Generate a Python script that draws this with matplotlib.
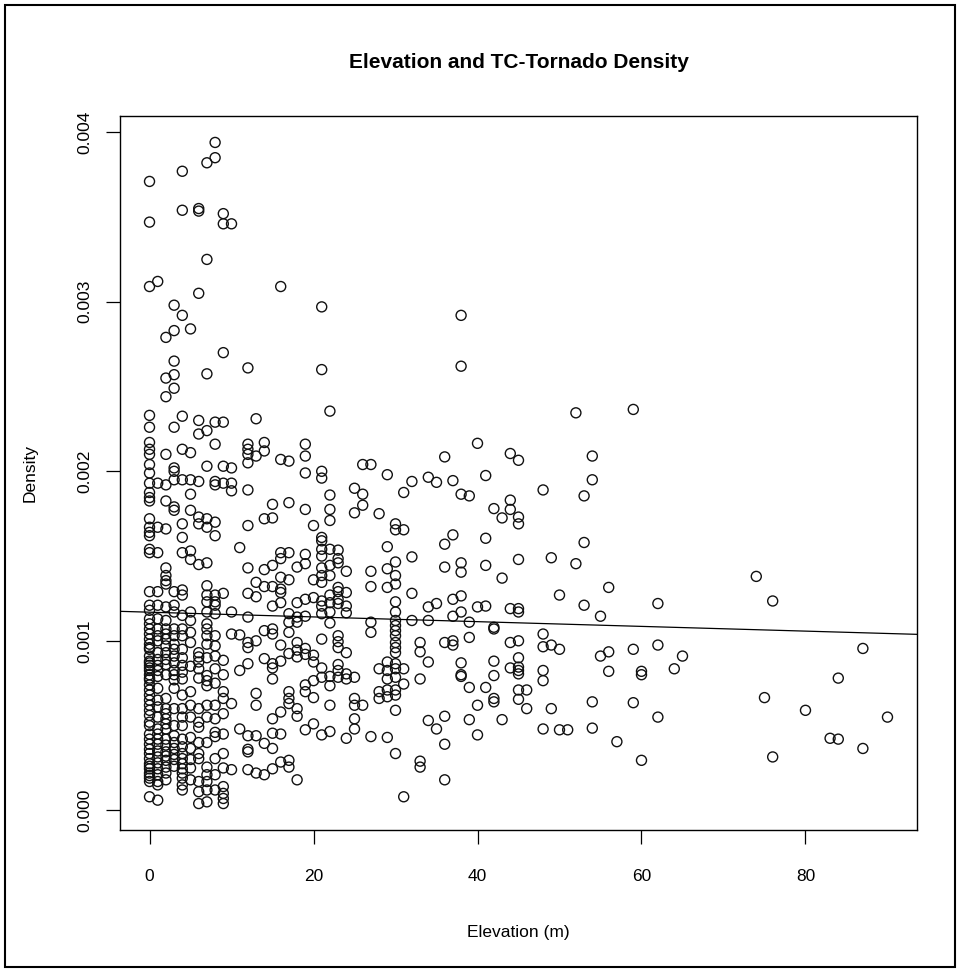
import numpy as np
import matplotlib
matplotlib.use("Agg")
import matplotlib.pyplot as plt
from matplotlib.patches import Rectangle

plt.rcParams['font.family'] = ['Liberation Sans', 'DejaVu Sans']

# (elevation m, density x 1e-3)
pts_0_4 = [
    (0, 3.71), (0, 3.47), (0, 3.09), (0, 2.33), (0, 2.26), (0, 2.17), (0, 2.13), (0, 2.10), (0, 2.04),
    (0, 1.99), (0, 1.93), (0, 1.875), (0, 1.845), (0, 1.825), (0, 1.72), (0, 1.67), (0, 1.64), (0, 1.62),
    (0, 1.54), (0, 1.52), (0, 1.29), (0, 1.21), (0, 1.18), (0, 1.13), (0, 1.10), (0, 1.07), (0, 1.04),
    (0, 1.01), (0, 0.98), (0, 0.96), (0, 0.95), (0, 0.91), (0, 0.88), (0, 0.87), (0, 0.855), (0, 0.84),
    (0, 0.825), (0, 0.80), (0, 0.78), (0, 0.77), (0, 0.74), (0, 0.71), (0, 0.68), (0, 0.65), (0, 0.62),
    (0, 0.59), (0, 0.56), (0, 0.52), (0, 0.50), (0, 0.45), (0, 0.42), (0, 0.39), (0, 0.36), (0, 0.335),
    (0, 0.305), (0, 0.275), (0, 0.26), (0, 0.245), (0, 0.22), (0, 0.205), (0, 0.19), (0, 0.17), (0, 0.08),
    (1, 3.12), (1, 1.93), (1, 1.67), (1, 1.52), (1, 1.29), (1, 1.21), (1, 1.13), (1, 1.07), (1, 1.03),
    (1, 1.00), (1, 0.93), (1, 0.89), (1, 0.855), (1, 0.825), (1, 0.79), (1, 0.72), (1, 0.65), (1, 0.61),
    (1, 0.55), (1, 0.48), (1, 0.45), (1, 0.42), (1, 0.39), (1, 0.35), (1, 0.315), (1, 0.28), (1, 0.245),
    (1, 0.21), (1, 0.17), (1, 0.15), (1, 0.06),
    (2, 2.79), (2, 2.55), (2, 2.44), (2, 2.10), (2, 1.92), (2, 1.825), (2, 1.66), (2, 1.43), (2, 1.385),
    (2, 1.355), (2, 1.335), (2, 1.20), (2, 1.12), (2, 1.07), (2, 1.04), (2, 1.01), (2, 0.97), (2, 0.93),
    (2, 0.89), (2, 0.86), (2, 0.80), (2, 0.66), (2, 0.60), (2, 0.57), (2, 0.54), (2, 0.51), (2, 0.48),
    (2, 0.42), (2, 0.385), (2, 0.345), (2, 0.32), (2, 0.295), (2, 0.255), (2, 0.22), (2, 0.18),
    (3, 2.98), (3, 2.83), (3, 2.65), (3, 2.57), (3, 2.49), (3, 2.26), (3, 2.02), (3, 2.00), (3, 1.95),
    (3, 1.79), (3, 1.77), (3, 1.29), (3, 1.21), (3, 1.17), (3, 1.07), (3, 1.03), (3, 0.98), (3, 0.95),
    (3, 0.91), (3, 0.87), (3, 0.825), (3, 0.80), (3, 0.77), (3, 0.72), (3, 0.60), (3, 0.50), (3, 0.44),
    (3, 0.40), (3, 0.365), (3, 0.33), (3, 0.30), (3, 0.26),
    (4, 3.77), (4, 3.54), (4, 2.92), (4, 2.325), (4, 2.13), (4, 1.95), (4, 1.69), (4, 1.61), (4, 1.52),
    (4, 1.30), (4, 1.27), (4, 1.15), (4, 1.07), (4, 1.03), (4, 0.95), (4, 0.90), (4, 0.855), (4, 0.815),
    (4, 0.775), (4, 0.68), (4, 0.60), (4, 0.55), (4, 0.50), (4, 0.42), (4, 0.375), (4, 0.335), (4, 0.305),
    (4, 0.275), (4, 0.245), (4, 0.22), (4, 0.19), (4, 0.15), (4, 0.12),
]

pts_5_9 = [
    (5, 2.84), (5, 2.11), (5, 1.95), (5, 1.865), (5, 1.77), (5, 1.53), (5, 1.48), (5, 1.17), (5, 1.12),
    (5, 1.05), (5, 0.99), (5, 0.85), (5, 0.70), (5, 0.62), (5, 0.55), (5, 0.43), (5, 0.365), (5, 0.30),
    (5, 0.25), (5, 0.18),
    (6, 3.55), (6, 3.535), (6, 3.05), (6, 2.30), (6, 2.22), (6, 1.94), (6, 1.73), (6, 1.69), (6, 1.45),
    (6, 0.93), (6, 0.905), (6, 0.875), (6, 0.835), (6, 0.78), (6, 0.60), (6, 0.52), (6, 0.49), (6, 0.40),
    (6, 0.335), (6, 0.305), (6, 0.17), (6, 0.11), (6, 0.04),
    (7, 3.82), (7, 3.25), (7, 2.575), (7, 2.24), (7, 2.03), (7, 1.72), (7, 1.67), (7, 1.46), (7, 1.325),
    (7, 1.27), (7, 1.23), (7, 1.17), (7, 1.10), (7, 1.07), (7, 1.03), (7, 0.98), (7, 0.90), (7, 0.795),
    (7, 0.765), (7, 0.735), (7, 0.62), (7, 0.55), (7, 0.40), (7, 0.255), (7, 0.21), (7, 0.17), (7, 0.12),
    (7, 0.05),
    (8, 3.94), (8, 3.85), (8, 2.29), (8, 2.16), (8, 1.94), (8, 1.92), (8, 1.70), (8, 1.62), (8, 1.27),
    (8, 1.23), (8, 1.21), (8, 1.16), (8, 1.03), (8, 0.97), (8, 0.91), (8, 0.835), (8, 0.75), (8, 0.62),
    (8, 0.54), (8, 0.46), (8, 0.435), (8, 0.305), (8, 0.21), (8, 0.12),
    (9, 3.52), (9, 3.46), (9, 2.70), (9, 2.29), (9, 2.03), (9, 1.93), (9, 1.28), (9, 0.885), (9, 0.80),
    (9, 0.70), (9, 0.66), (9, 0.57), (9, 0.45), (9, 0.335), (9, 0.25), (9, 0.14), (9, 0.10), (9, 0.07),
    (9, 0.04),
]

pts_10_19 = [
    (10, 3.46), (10, 2.02), (10, 1.93), (10, 1.885), (10, 1.17), (10, 1.04), (10, 0.63), (10, 0.24),
    (11, 1.55), (11, 1.035), (11, 0.825), (11, 0.48),
    (12, 2.61), (12, 2.16), (12, 2.13), (12, 2.10), (12, 2.05), (12, 1.89), (12, 1.68), (12, 1.43),
    (12, 1.28), (12, 1.14), (12, 0.99), (12, 0.96), (12, 0.865), (12, 0.44), (12, 0.36), (12, 0.345),
    (12, 0.24),
    (13, 2.31), (13, 2.09), (13, 1.345), (13, 1.26), (13, 1.00), (13, 0.69), (13, 0.62), (13, 0.44), (13, 0.22),
    (14, 2.17), (14, 2.12), (14, 1.72), (14, 1.42), (14, 1.32), (14, 1.06), (14, 0.895), (14, 0.395), (14, 0.21),
    (15, 1.805), (15, 1.725), (15, 1.445), (15, 1.32), (15, 1.205), (15, 1.07), (15, 1.04), (15, 0.865),
    (15, 0.84), (15, 0.775), (15, 0.54), (15, 0.455), (15, 0.365), (15, 0.245),
    (16, 3.09), (16, 2.07), (16, 1.52), (16, 1.485), (16, 1.375), (16, 1.305), (16, 1.285), (16, 1.225),
    (16, 0.975), (16, 0.88), (16, 0.58), (16, 0.45), (16, 0.285),
    (17, 2.06), (17, 1.815), (17, 1.52), (17, 1.36), (17, 1.16), (17, 1.11), (17, 1.05), (17, 0.925),
    (17, 0.70), (17, 0.66), (17, 0.63), (17, 0.295), (17, 0.255),
    (18, 1.435), (18, 1.225), (18, 1.14), (18, 1.11), (18, 0.99), (18, 0.945), (18, 0.905), (18, 0.60),
    (18, 0.555), (18, 0.18),
    (19, 2.16), (19, 2.09), (19, 1.99), (19, 1.775), (19, 1.51), (19, 1.455), (19, 1.245), (19, 1.145),
    (19, 0.955), (19, 0.92), (19, 0.74), (19, 0.70), (19, 0.475),
]

pts_20_29 = [
    (20, 1.68), (20, 1.36), (20, 1.255), (20, 0.915), (20, 0.875), (20, 0.765), (20, 0.665), (20, 0.51),
    (21, 2.97), (21, 2.60), (21, 2.00), (21, 1.96), (21, 1.61), (21, 1.59), (21, 1.54), (21, 1.50),
    (21, 1.43), (21, 1.385), (21, 1.345), (21, 1.235), (21, 1.205), (21, 1.16), (21, 1.01), (21, 0.84),
    (21, 0.785), (21, 0.445),
    (22, 2.355), (22, 1.86), (22, 1.775), (22, 1.71), (22, 1.54), (22, 1.445), (22, 1.385), (22, 1.27),
    (22, 1.225), (22, 1.17), (22, 1.105), (22, 0.79), (22, 0.735), (22, 0.62), (22, 0.465),
    (23, 1.535), (23, 1.485), (23, 1.46), (23, 1.315), (23, 1.29), (23, 1.245), (23, 1.22), (23, 1.03),
    (23, 0.995), (23, 0.96), (23, 0.86), (23, 0.825), (23, 0.785),
    (24, 1.41), (24, 1.285), (24, 1.205), (24, 1.165), (24, 0.93), (24, 0.805), (24, 0.775), (24, 0.425),
    (25, 1.90), (25, 1.755), (25, 0.785), (25, 0.66), (25, 0.62), (25, 0.54), (25, 0.48),
    (26, 2.04), (26, 1.865), (26, 1.80), (26, 0.62),
    (27, 2.04), (27, 1.41), (27, 1.32), (27, 1.11), (27, 1.05), (27, 0.435),
    (28, 1.75), (28, 0.835), (28, 0.70), (28, 0.66),
    (29, 1.98), (29, 1.555), (29, 1.425), (29, 1.315), (29, 0.875), (29, 0.825), (29, 0.775), (29, 0.71),
    (29, 0.67), (29, 0.43),
]

pts_30_45 = [
    (30, 1.69), (30, 1.655), (30, 1.465), (30, 1.385), (30, 1.335), (30, 1.23), (30, 1.17), (30, 1.12),
    (30, 1.09), (30, 1.06), (30, 1.03), (30, 0.99), (30, 0.96), (30, 0.93), (30, 0.865), (30, 0.835),
    (30, 0.785), (30, 0.71), (30, 0.68), (30, 0.59), (30, 0.335),
    (31, 1.875), (31, 1.655), (31, 0.835), (31, 0.745), (31, 0.08),
    (32, 1.94), (32, 1.495), (32, 1.28), (32, 1.12),
    (33, 0.99), (33, 0.935), (33, 0.775), (33, 0.29), (33, 0.255),
    (34, 1.965), (34, 1.20), (34, 1.12), (34, 0.875), (34, 0.53),
    (35, 1.935), (35, 1.22), (35, 0.48),
    (36, 2.085), (36, 1.57), (36, 1.435), (36, 0.99), (36, 0.555), (36, 0.39), (36, 0.18),
    (37, 1.945), (37, 1.625), (37, 1.245), (37, 1.145), (37, 1.00), (37, 0.975),
    (38, 2.92), (38, 2.62), (38, 1.865), (38, 1.46), (38, 1.405), (38, 1.265), (38, 1.17), (38, 0.87),
    (38, 0.80), (38, 0.79),
    (39, 1.855), (39, 1.11), (39, 1.02), (39, 0.725), (39, 0.535),
    (40, 2.165), (40, 1.20), (40, 0.62), (40, 0.445),
    (41, 1.975), (41, 1.605), (41, 1.445), (41, 1.205), (41, 0.725),
    (42, 1.78), (42, 1.08), (42, 1.07), (42, 0.88), (42, 0.795), (42, 0.66), (42, 0.64),
    (43, 1.725), (43, 1.37), (43, 0.535),
    (44, 2.105), (44, 1.83), (44, 1.775), (44, 1.19), (44, 0.99), (44, 0.84),
    (45, 2.065), (45, 1.73), (45, 1.69), (45, 1.48), (45, 1.19), (45, 1.17), (45, 1.00), (45, 0.90),
    (45, 0.845), (45, 0.825), (45, 0.805), (45, 0.71), (45, 0.655),
]

pts_46_90 = [
    (46, 0.71), (46, 0.60),
    (48, 1.89), (48, 1.04), (48, 0.965), (48, 0.825), (48, 0.765), (48, 0.48),
    (49, 1.49), (49, 0.975), (49, 0.60),
    (50, 1.27), (50, 0.95), (50, 0.475),
    (51, 0.475),
    (52, 2.345), (52, 1.455),
    (53, 1.855), (53, 1.58), (53, 1.21),
    (54, 2.09), (54, 1.95), (54, 0.64), (54, 0.485),
    (55, 1.145), (55, 0.91),
    (56, 1.315), (56, 0.935), (56, 0.82),
    (57, 0.405),
    (59, 2.365), (59, 0.95), (59, 0.635),
    (60, 0.82), (60, 0.80), (60, 0.295),
    (62, 1.22), (62, 0.975), (62, 0.55),
    (64, 0.835), (65, 0.91),
    (74, 1.38), (75, 0.665), (76, 1.235), (76, 0.315),
    (80, 0.59), (83, 0.425), (84, 0.78), (84, 0.42),
    (87, 0.955), (87, 0.365), (90, 0.55),
]

x_ticks = [0, 20, 40, 60, 80]
y_ticks = [0.000, 0.001, 0.002, 0.003, 0.004]
title = "Elevation and TC-Tornado Density"
xlabel = "Elevation (m)"
ylabel = "Density"

table = np.array(pts_0_4 + pts_5_9 + pts_10_19 + pts_20_29 + pts_30_45 + pts_46_90, dtype=float)
elev = table[:, 0]
dens = table[:, 1] * 1e-3

W, H = 961, 972
fig = plt.figure(figsize=(W / 100, H / 100), dpi=100)
L, R, T, B = 120, 917, 116, 830
ax = fig.add_axes([L / W, 1 - B / H, (R - L) / W, (B - T) / H])

ax.scatter(elev, dens, s=52, facecolors='none', edgecolors='#111111', linewidths=1.0, zorder=2)

slope, intercept = np.polyfit(elev, dens, 1)

xr = elev.max() - elev.min()
yr = dens.max() - dens.min()
ax.set_xlim(elev.min() - 0.04 * xr, elev.max() + 0.04 * xr)
ax.set_ylim(dens.min() - 0.04 * yr, dens.max() + 0.04 * yr)
ax.axline((0, intercept), slope=slope, color='black', lw=0.9, zorder=3)

ax.set_xticks(x_ticks)
ax.set_xticklabels([str(v) for v in x_ticks])
ax.set_yticks(y_ticks)
ax.set_yticklabels([f"{v:.3f}" for v in y_ticks])
ax.tick_params(direction='out', length=10, width=0.9, labelsize=12.5, color='black')
ax.tick_params(axis='x', pad=18)
ax.tick_params(axis='y', pad=10)
for lab in ax.get_yticklabels():
    lab.set_rotation(90)
    lab.set_va('center')
for s in ax.spines.values():
    s.set_linewidth(1.0)

ax.set_xlabel(xlabel, fontsize=12.5)
ax.xaxis.label.set_va('center')
ax.xaxis.set_label_coords(0.5, (B - 932) / (B - T))
ax.set_ylabel(ylabel, fontsize=12.5)
ax.yaxis.label.set_va('center')
ax.yaxis.set_label_coords((30 - L) / (R - L), 0.5)

fig.text((L + R) / 2 / W, 1 - 62 / H, title, ha='center', va='center',
         fontsize=15, fontweight='bold')

fig.patches.append(Rectangle((5 / W, 5 / H), 950 / W, 962 / H, transform=fig.transFigure,
                             fill=False, lw=1.5, ec='black'))

fig.savefig("out.png", dpi=100)
